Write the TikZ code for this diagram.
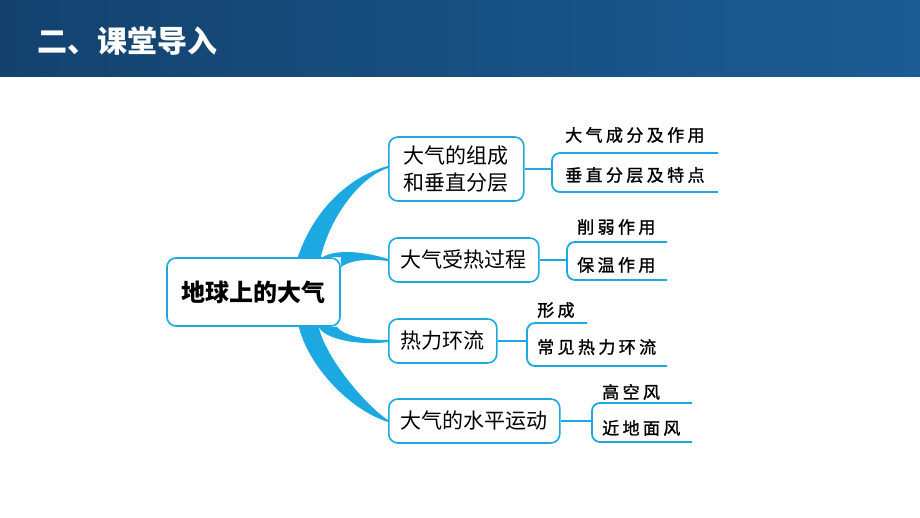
\documentclass[tikz,border=0pt]{standalone}
\usepackage{fontspec}
\setmainfont{Noto Sans CJK SC}
\newfontfamily\leaffont{Noto Sans CJK SC}[LetterSpace=20,FakeBold=1.3]
\usetikzlibrary{backgrounds}
\definecolor{mapblue}{RGB}{28,168,225}
\definecolor{bandL}{RGB}{19,66,110}
\definecolor{bandR}{RGB}{27,92,148}
\tikzset{
ROOT/.style ={draw=mapblue,fill=white,line width=1.6pt,rounded corners=9pt,minimum width=173pt,minimum height=68pt,font=\fontsize{24pt}{28pt}\selectfont\bfseries},
BRANCH/.style ={draw=mapblue,fill=white,line width=1.6pt,rounded corners=9pt,anchor=west,inner xsep=12pt,minimum height=44pt,align=center,font=\fontsize{21pt}{27pt}\selectfont},
LEAF/.style ={anchor=west,inner sep=0pt,font=\leaffont\fontsize{17pt}{19pt}\selectfont},
LIMB/.style ={fill=mapblue,draw=none},
BAR/.style ={draw=mapblue,line width=1.8pt,rounded corners=8pt},
}
\begin{document}
\begin{tikzpicture}[x=1pt,y=-1pt] % mind map of the atmosphere
	\useasboundingbox (0,0) rectangle (920,518);
	\fill[left color=bandL,right color=bandR] (0,0) rectangle (920,77);
	\node[anchor=west,inner sep=0pt,text=white,font=\fontsize{30pt}{34pt}\selectfont\bfseries] (title) at (37,41) {二、课堂导入};

	\node[ROOT] (root) at (253.5,292) {地球上的大气};
	\node[BRANCH,inner xsep=15pt,minimum height=64pt] (b1) at (388,169) {大气的组成\\和垂直分层};
	\node[BRANCH] (b2) at (388,260) {大气受热过程};
	\node[BRANCH] (b3) at (388,341) {热力环流};
	\node[BRANCH] (b4) at (388,421) {大气的水平运动};

\begin{scope}[on background layer]
	\fill[LIMB] ([xshift=-43pt]root.north east) .. controls +(15,-45) and +(-41,11) .. ([yshift=3pt]b1.west) -- ([yshift=1pt]b1.west) .. controls +(-26,8) and +(10,-43) .. ([xshift=-20pt]root.north east) -- cycle;
	\fill[LIMB] ([xshift=-18pt]root.north east) .. controls +(12,-8) and +(-25,-8) .. ([yshift=1pt]b2.west) -- ([yshift=-1pt]b2.west) .. controls +(-25,-3) and +(8,-6) .. ([yshift=-10pt]root.north east) -- (root.north east) -- cycle;
	\fill[LIMB] ([xshift=-4pt]root.south east) .. controls +(8,10) and +(-20,0) .. ([yshift=1pt]b3.west) -- ([yshift=-1pt]b3.west) .. controls +(-30,4) and +(5,12) .. ([xshift=-22pt]root.south east) -- cycle;
	\fill[LIMB] ([xshift=-42pt]root.south east) .. controls +(10,40) and +(-38,-12) .. ([yshift=-1pt]b4.west) -- ([yshift=1pt]b4.west) .. controls +(-22,-14) and +(6,30) .. ([xshift=-22pt]root.south east) -- cycle;
\end{scope}

	% brackets
	\coordinate (k1a) at (718,153); \coordinate (k1c) at (552,169); \coordinate (k1b) at (718,192);
	\coordinate (k2a) at (667,242); \coordinate (k2c) at (567,260); \coordinate (k2b) at (667,280);
	\coordinate (k3a) at (587,323); \coordinate (k3c) at (527,341); \coordinate (k3b) at (667,366);
	\coordinate (k4a) at (692,403); \coordinate (k4c) at (592,421); \coordinate (k4b) at (692,442);
	\foreach \i in {1,...,4} {
		\draw[BAR] (k\i a) -| (k\i c) |- (k\i b);
		\draw[BAR] (b\i.east) -- (k\i c);
	}

	\node[LEAF] (l1a) at (565,135) {大气成分及作用};
	\node[LEAF] (l1b) at (565,175) {垂直分层及特点};
	\node[LEAF] (l2a) at (577,227) {削弱作用};
	\node[LEAF] (l2b) at (577,265) {保温作用};
	\node[LEAF] (l3a) at (537,310) {形成};
	\node[LEAF] (l3b) at (537,347) {常见热力环流};
	\node[LEAF] (l4a) at (602,392) {高空风};
	\node[LEAF] (l4b) at (602,428) {近地面风};
\end{tikzpicture}
\end{document}
